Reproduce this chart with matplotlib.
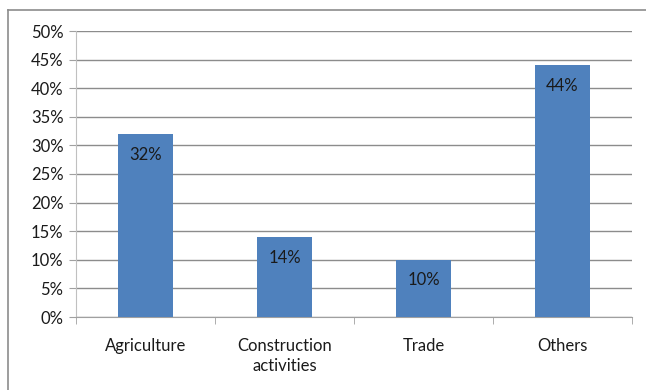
import matplotlib.pyplot as plt
from matplotlib.lines import Line2D

categories = ['Agriculture', 'Construction\nactivities', 'Trade', 'Others']
shares = [32, 14, 10, 44]
y_ticks = [0, 5, 10, 15, 20, 25, 30, 35, 40, 45, 50]

plt.rcParams['font.family'] = ['Lato', 'DejaVu Sans']

fig = plt.figure(figsize=(6.46, 3.90), dpi=100)
ax = fig.add_axes([76 / 646, 1 - 317 / 390, (632 - 76) / 646, (317 - 31) / 390])

x = range(len(categories))
ax.bar(x, shares, width=0.4, color='#4F81BD', zorder=3)
for i, v in enumerate(shares):
    ax.text(i, v - 3.6, f'{v}%', ha='center', va='center', fontsize=12, color='#1a1a1a', zorder=4)

ax.set_xlim(-0.5, len(categories) - 0.5)
ax.set_ylim(0, 50)
ax.set_yticks(y_ticks)
ax.set_yticklabels([f'{t}%' for t in y_ticks], fontsize=12, color='#1a1a1a')
ax.set_xticks(list(x))
ax.set_xticklabels(categories, fontsize=12, color='#1a1a1a', linespacing=1.3)
ax.tick_params(axis='x', length=0, pad=15)
ax.tick_params(axis='y', length=5, color='#a0a0a0', pad=4)

# tick marks between categories on the x axis
ax.set_xticks([-0.5, 0.5, 1.5, 2.5, 3.5], minor=True)
ax.tick_params(axis='x', which='minor', length=5, color='#a0a0a0')

ax.grid(axis='y', color='#8c8c8c', linewidth=1, zorder=0)
for s in ['top', 'right']:
    ax.spines[s].set_visible(False)
ax.spines['left'].set_color('#c0c0c0')
ax.spines['bottom'].set_color('#a0a0a0')

# outer chart border (top and left visible)
fig.add_artist(Line2D([8 / 646, 8 / 646], [0, 1 - 10 / 390], color='#8c8c8c', linewidth=1.2, transform=fig.transFigure))
fig.add_artist(Line2D([8 / 646, 1], [1 - 10 / 390, 1 - 10 / 390], color='#8c8c8c', linewidth=1.2, transform=fig.transFigure))

fig.savefig('out.png', dpi=100, facecolor='white')
